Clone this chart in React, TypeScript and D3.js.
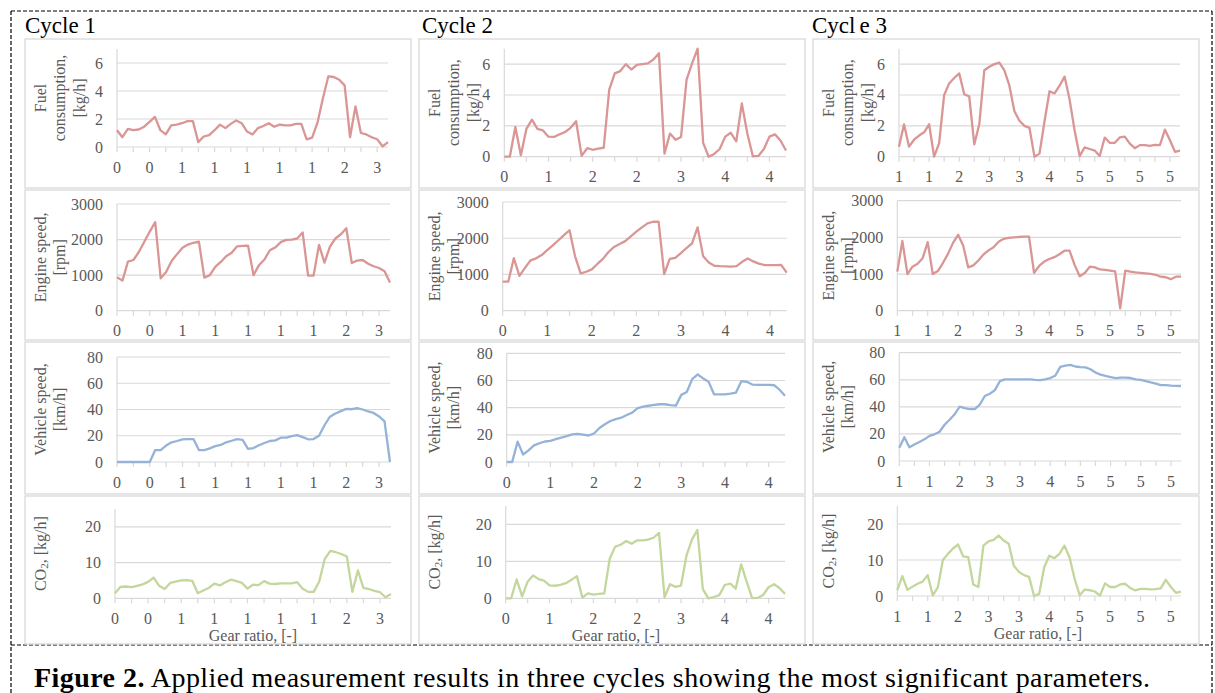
import React from "react";
import * as d3 from "d3";

// gear ratio tick labels (one label every two tick marks)
const cycle1Labels = ["0", "0", "1", "1", "1", "1", "1", "2", "3"];
const cycle2Labels = ["0", "1", "2", "2", "3", "4", "4"];
const cycle3Labels = ["1", "1", "2", "3", "3", "4", "5", "5", "5", "5"];

// Cycle 1
const cycle1Fuel = [1.2, 0.7, 1.3, 1.2, 1.25, 1.45, 1.8, 2.15, 1.2, 0.9, 1.55, 1.6, 1.7, 1.85, 1.85, 0.35, 0.75, 0.85, 1.2, 1.6, 1.35, 1.65, 1.9, 1.7, 1.1, 0.9, 1.35, 1.5, 1.7, 1.45, 1.6, 1.55, 1.55, 1.65, 1.65, 0.55, 0.67, 1.75, 3.5, 5.05, 5.0, 4.8, 4.4, 0.7, 2.9, 1.0, 0.9, 0.7, 0.55, 0.05, 0.35];
const cycle1Engine = [940, 845, 1380, 1425, 1650, 1940, 2225, 2490, 910, 1090, 1400, 1590, 1770, 1860, 1910, 1940, 930, 1000, 1230, 1370, 1530, 1630, 1810, 1825, 1830, 1000, 1280, 1440, 1700, 1780, 1930, 1990, 2000, 2030, 2200, 990, 985, 1850, 1350, 1800, 2030, 2150, 2320, 1340, 1410, 1425, 1320, 1250, 1200, 1110, 790];
const cycle1Vehicle = [0, 0, 0, 0, 0, 0, 0, 9.1, 9.1, 12.5, 15, 16, 17.3, 17.5, 17.5, 9.1, 9.1, 10.4, 12.1, 13, 15, 16.2, 17.4, 16.8, 10, 10.6, 12.8, 14.5, 16, 16.5, 18.5, 18.5, 19.7, 20.5, 19, 17.3, 17.5, 20, 28, 34.5, 37, 38.8, 40.5, 40.2, 41, 40, 38.5, 37.4, 34.7, 31, 0];
const cycle1Co2 = [1.4, 3.2, 3.3, 3.1, 3.5, 3.9, 4.6, 5.8, 3.5, 2.6, 4.3, 4.7, 5, 5.1, 4.9, 1.4, 2.2, 2.9, 4.1, 3.6, 4.5, 5.2, 4.8, 4.3, 2.7, 3.8, 3.7, 4.8, 4.1, 4, 4.2, 4.2, 4.2, 4.5, 2.7, 1.8, 1.8, 4.7, 11, 13.3, 12.9, 12.4, 11.7, 1.8, 7.8, 2.9, 2.6, 2.1, 1.7, 0.3, 1.2];

// Cycle 2
const cycle2Fuel = [0, 0, 1.93, 0.1, 1.8, 2.4, 1.8, 1.7, 1.3, 1.28, 1.45, 1.6, 1.87, 2.3, 0.05, 0.55, 0.45, 0.52, 0.58, 4.35, 5.4, 5.55, 6.0, 5.65, 5.95, 6.0, 6.05, 6.3, 6.7, 0.2, 1.5, 1.1, 1.28, 5.0, 6.05, 7, 0.9, 0, 0.18, 0.5, 1.3, 1.55, 1.0, 3.45, 1.5, 0.03, 0.05, 0.5, 1.3, 1.45, 1.05, 0.4];
const cycle2Engine = [800, 800, 1450, 960, 1180, 1390, 1445, 1535, 1674, 1805, 1944, 2083, 2220, 1500, 1030, 1075, 1140, 1290, 1430, 1620, 1760, 1840, 1920, 2050, 2180, 2300, 2410, 2455, 2455, 1010, 1430, 1460, 1590, 1730, 1860, 2300, 1500, 1330, 1240, 1230, 1225, 1215, 1230, 1350, 1440, 1360, 1300, 1260, 1260, 1260, 1265, 1050];
const cycle2Vehicle = [0, 0, 15, 5.5, 8.5, 12.2, 13.8, 15.1, 15.5, 16.8, 18, 19.1, 20.4, 20.7, 20.1, 19.5, 21, 25, 27.8, 30.2, 31.6, 32.6, 34.6, 36.3, 39.7, 40.7, 41.4, 42, 42.5, 42.5, 41.8, 41.5, 49.4, 51.5, 61, 64.4, 61.5, 59, 49.8, 49.8, 49.8, 50.3, 51, 59.5, 59, 57, 56.7, 56.7, 56.7, 56.5, 53.2, 48.8];
const cycle2Co2 = [0, 0, 5.1, 0.5, 4.5, 6.2, 5.2, 4.8, 3.5, 3.4, 3.65, 4.1, 5.0, 6.0, 0.2, 1.35, 1.0, 1.2, 1.35, 10.8, 14.0, 14.5, 15.5, 14.8, 15.7, 15.7, 15.9, 16.4, 17.7, 0.3, 3.8, 3.1, 3.4, 11.5, 15.9, 18.5, 2.5, 0, 0.35, 0.85, 3.6, 4.0, 2.6, 9.2, 4.5, 0.05, 0.1, 0.9, 3.0, 3.8, 2.8, 1.2];

// Cycle 3
const cycle3Fuel = [0.64, 2.1, 0.65, 1.1, 1.37, 1.58, 2.1, 0, 0.88, 4.0, 4.75, 5.1, 5.4, 4.05, 3.9, 0.8, 2.1, 5.6, 5.83, 6.0, 6.1, 5.6, 4.6, 2.95, 2.33, 2.0, 1.87, 0, 0.2, 2.3, 4.24, 4.1, 4.6, 5.19, 3.7, 1.7, 0.04, 0.6, 0.5, 0.4, 0.05, 1.24, 0.9, 0.9, 1.25, 1.3, 0.85, 0.55, 0.75, 0.75, 0.7, 0.77, 0.75, 1.75, 1.07, 0.32, 0.39];
const cycle3Engine = [1064, 1900, 1000, 1200, 1280, 1430, 1870, 1000, 1080, 1300, 1550, 1850, 2070, 1780, 1180, 1235, 1370, 1530, 1645, 1730, 1880, 1960, 1985, 2000, 2010, 2018, 2018, 1030, 1220, 1340, 1410, 1460, 1540, 1636, 1636, 1250, 940, 1030, 1200, 1180, 1125, 1112, 1095, 1070, 64, 1090, 1064, 1045, 1030, 1018, 1003, 980, 927, 912, 860, 927, 927];
const cycle3Vehicle = [9.8, 17.5, 10.2, 12.2, 14, 16, 18.6, 19.7, 21.6, 26.8, 30.5, 34.5, 40.1, 39.1, 38.4, 38.4, 41.6, 48, 49.7, 52.4, 59, 60.3, 60.3, 60.3, 60.3, 60.3, 60.3, 60, 59.8, 60.3, 61.3, 63, 69.5, 70.4, 71, 69.8, 69.3, 69.2, 67.8, 65.4, 63.8, 62.8, 62, 61.2, 61.6, 61.6, 61.3, 60.3, 60, 59, 58, 57.2, 56.1, 56.1, 55.7, 55.5, 55.4];
const cycle3Co2 = [1.65, 5.5, 1.7, 2.6, 3.4, 4.0, 5.8, 0.2, 2.4, 10, 11.7, 13.2, 14.3, 11, 10.8, 3.2, 2.5, 14, 15.2, 15.6, 16.8, 15.4, 14.5, 8.4, 6.7, 5.8, 5.3, 0, 0.6, 8, 11.2, 10.5, 11.7, 14, 10.7, 4.8, 0.2, 1.8, 1.6, 1.25, 0.1, 3.5, 2.5, 2.5, 3.2, 3.4, 2.2, 1.55, 2.0, 2.0, 1.85, 1.9, 2.1, 4.5, 2.5, 0.9, 1.2];

const rows = [
  { key: "fuel", max: 7, step: 2, color: "#d99694", title: ["Fuel", "consumption,", "[kg/h]"] },
  { key: "engine", max: 3000, step: 1000, color: "#d99694", title: ["Engine speed,", "[rpm]"] },
  { key: "vehicle", max: 80, step: 20, color: "#95b3d7", title: ["Vehicle speed,", "[km/h]"] },
  { key: "co2", max: 25, step: 10, color: "#c3d69b", title: null },
];

const cycles = [
  { name: "Cycle 1", labels: cycle1Labels, perTick: 3, series: { fuel: cycle1Fuel, engine: cycle1Engine, vehicle: cycle1Vehicle, co2: cycle1Co2 } },
  { name: "Cycle 2", labels: cycle2Labels, perTick: 4, series: { fuel: cycle2Fuel, engine: cycle2Engine, vehicle: cycle2Vehicle, co2: cycle2Co2 } },
  { name: "Cycle 3", labels: cycle3Labels, perTick: 3, series: { fuel: cycle3Fuel, engine: cycle3Engine, vehicle: cycle3Vehicle, co2: cycle3Co2 } },
];

// layout
const W = 1215, H = 693;
const FONT = "'Liberation Serif', 'Times New Roman', serif";
const TXT = "#595959";
const GRID = "#d9d9d9";
const colLeft = [25, 419, 813];
const boxW = 386;
const rowTop = [39, 190, 342, 496];
const rowBottom = [188, 340, 494, 644];
// [left, right, zero y, top y] of every plot area
const plotArea = [
  [[117, 388, 147, 49], [117, 390, 310.7, 204], [117, 390, 462, 357], [115, 391, 598.3, 509]],
  [[504.3, 786, 156.7, 48.7], [502.7, 786.7, 310.7, 202], [506.7, 785, 462, 353.3], [505.7, 785, 598.3, 506]],
  [[899, 1180, 156.7, 48.7], [897.3, 1181, 310.7, 200.7], [899.3, 1181, 461, 352.7], [897.3, 1181, 596, 506]],
];
const gearTitleX = [253, 616, 1038];

function Panel({ cycle, ci, row, ri }: any) {
  const [L, R, y0, yT] = plotArea[ci][ri];
  const data: number[] = cycle.series[row.key];
  const x = d3.scaleLinear().domain([0, data.length - 1]).range([L, R]);
  const y = d3.scaleLinear().domain([0, row.max]).range([y0, yT]);
  const line = d3.line<number>().x((_, i) => x(i)).y(d => y(Math.min(d, row.max)));
  const yTicks = d3.range(0, row.max + 1e-9, row.step);
  const tickIdx = d3.range(0, data.length, cycle.perTick);
  const labelIdx = d3.range(0, data.length, cycle.perTick * 2);
  const bx = colLeft[ci];
  const cy = (y0 + yT) / 2;

  return (
    <g>
      <rect x={bx} y={rowTop[ri]} width={boxW} height={rowBottom[ri] - rowTop[ri]} fill="#fff" stroke={GRID} strokeWidth={1.3} />
      {yTicks.filter(t => t > 0).map(t => (
        <line key={t} x1={L} x2={R} y1={y(t)} y2={y(t)} stroke={GRID} strokeWidth={1.2} />
      ))}
      <line x1={L} x2={L} y1={y0} y2={yT} stroke={GRID} strokeWidth={1.2} />
      <line x1={L} x2={R} y1={y0} y2={y0} stroke={GRID} strokeWidth={1.2} />
      {tickIdx.map(i => (
        <line key={i} x1={x(i)} x2={x(i)} y1={y0} y2={y0 + 5} stroke={GRID} strokeWidth={1.2} />
      ))}
      {yTicks.map(t => (
        <text key={t} x={L - 14} y={y(t)} textAnchor="end" dominantBaseline="central" fontSize={16} fill={TXT}>{t}</text>
      ))}
      {labelIdx.map((i, k) => (
        <text key={i} x={x(i)} y={y0 + 20} textAnchor="middle" dominantBaseline="central" fontSize={16} fill={TXT}>{cycle.labels[k]}</text>
      ))}
      <path d={line(data) || ""} fill="none" stroke={row.color} strokeWidth={2.3} strokeLinejoin="round" />
      {row.title ? row.title.map((t: string, k: number) => (
        <text key={k} transform={`translate(${bx + 15 + k * 19.5},${cy}) rotate(-90)`} textAnchor="middle" dominantBaseline="central" fontSize={16} fill={TXT}>{t}</text>
      )) : (
        <text transform={`translate(${bx + 15},${cy}) rotate(-90)`} textAnchor="middle" dominantBaseline="central" fontSize={16} fill={TXT}>
          CO<tspan fontSize={11} dy={4}>2</tspan><tspan dy={-4}>, [kg/h]</tspan>
        </text>
      )}
      {ri === 3 && (
        <text x={gearTitleX[ci]} y={y0 + 37} textAnchor="middle" dominantBaseline="central" fontSize={16} fill={TXT}>Gear ratio, [-]</text>
      )}
    </g>
  );
}

export default function App() {
  const dash = { stroke: "#000", strokeWidth: 1.2, strokeDasharray: "4 2" };
  return (
    <svg width={W} height={H} style={{ position: "absolute", left: 0, top: 0, background: "#fff" }} fontFamily={FONT}>
      <line x1={11} x2={1212} y1={11} y2={11} {...dash} />
      <line x1={11} x2={1212} y1={645} y2={645} {...dash} />
      <line x1={11} x2={11} y1={11} y2={H} {...dash} />
      <line x1={1212} x2={1212} y1={11} y2={H} {...dash} />
      <text x={25} y={32.7} fontSize={23}>Cycle 1</text>
      <text x={422} y={32.7} fontSize={23}>Cycle 2</text>
      <text x={812} y={32.7} fontSize={23}>Cycl<tspan dx={4}>e 3</tspan></text>
      {cycles.map((c, ci) => rows.map((r, ri) => (
        <Panel key={`${ci}-${ri}`} cycle={c} ci={ci} row={r} ri={ri} />
      )))}
      <text x={34} y={687} fontSize={28} textLength={1116} lengthAdjust="spacing">
        <tspan fontWeight="bold">Figure 2.</tspan> Applied measurement results in three cycles showing the most significant parameters.
      </text>
    </svg>
  );
}
